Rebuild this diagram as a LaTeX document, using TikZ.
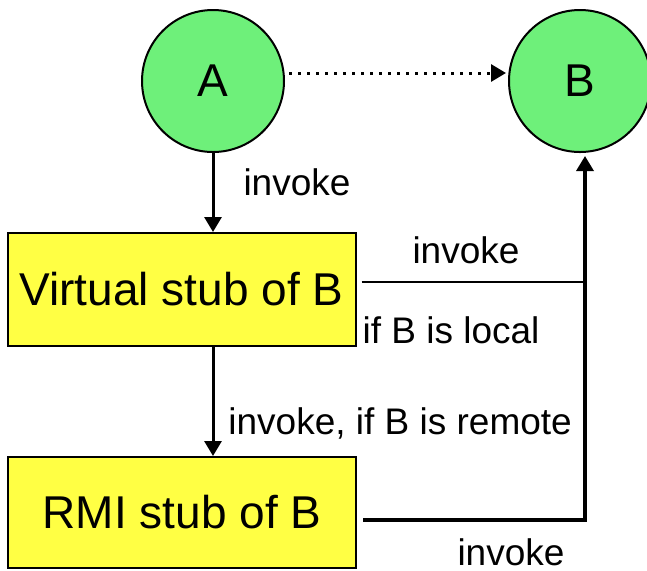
\documentclass[tikz,border=0pt]{standalone}
\usepackage{fontspec}
\setmainfont{Liberation Sans}
\usetikzlibrary{arrows.meta}

\definecolor{peergreen}{RGB}{110,240,122}
\definecolor{stubyellow}{RGB}{255,255,68}

\begin{document}
\begin{tikzpicture}[x=0.5pt,y=-0.5pt,>={Triangle[length=7.5pt,width=8.5pt]},
                    peer/.style={circle,draw,line width=1pt,fill=peergreen,
                                 minimum size=71pt,inner sep=0pt,
                                 font=\fontsize{23}{27}\selectfont},
                    stub/.style={rectangle,draw,line width=1pt,fill=stubyellow,
                                 minimum width=174pt,
                                 font=\fontsize{23}{27}\selectfont},
                    lbl/.style={font=\fontsize{18.5}{21}\selectfont,inner sep=0pt},
                    call/.style={->,line width=1.5pt}]

  \useasboundingbox (0,0) rectangle (647,570);

  \node[peer]   (A)    at (213,81)    {A};
  \node[peer]   (B)    at (580,81)    {B};
  \node[stub,minimum height=56.5pt] (virt) at (181.5,289.5) {Virtual stub of B};
  \node[stub,minimum height=55.5pt] (rmi)  at (182,512.5)   {RMI stub of B};

  \coordinate (join) at (585,282);
  \coordinate (turn) at (585,520);

  % A talks to B as if it were plain local
  \draw[->,line width=1.5pt,dash pattern=on 1.5pt off 3pt]
        ([yshift=4pt,xshift=2pt]A.east) -- ([yshift=4pt,xshift=-1pt]B.west);

  \draw[call] (A.south) -- (A.south |- virt.north);
  \draw[call] (A.south |- virt.south) -- (A.south |- rmi.north);

  % both stubs reach B over the same riser
  \draw[line width=1pt] ([xshift=2.5pt]virt.east |- join) -- (join);
  \draw[call,line width=1.7pt,shorten >=1.5pt]
        ([xshift=3pt]rmi.east |- turn) -- (turn) -- (turn |- B.south);

  \node[lbl,anchor=base] (l-a)      at (297,195) {invoke};
  \node[lbl,anchor=base] (l-up)     at (466,263) {invoke};
  \node[lbl,anchor=base] (l-local)  at (451,343) {if B is local};
  \node[lbl,anchor=base west] (l-remote) at (228,434) {invoke, if B is remote};
  \node[lbl,anchor=base] (l-rmi)    at (511,565) {invoke};
\end{tikzpicture}
\end{document}
